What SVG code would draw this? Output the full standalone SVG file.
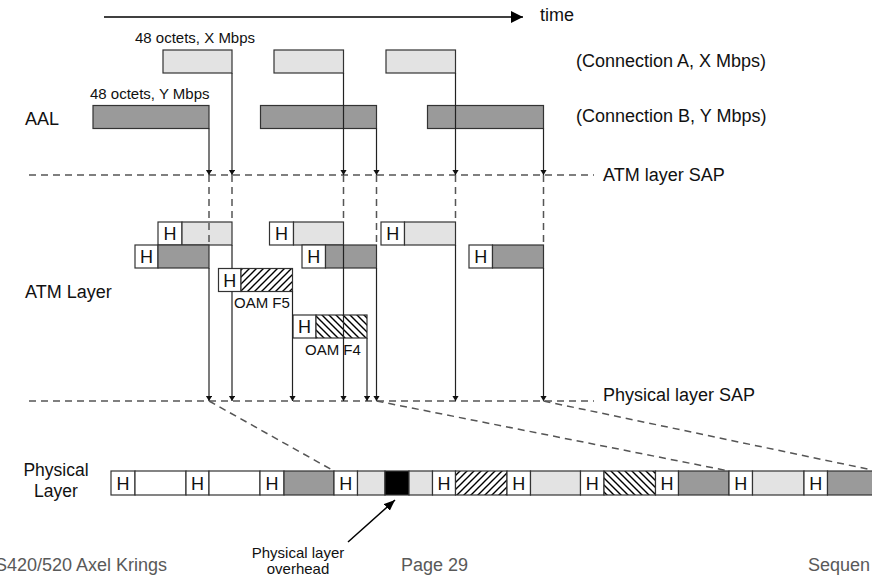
<svg xmlns="http://www.w3.org/2000/svg" width="872" height="578" viewBox="0 0 872 578">
<style>
text{font-family:"Liberation Sans",Arial,sans-serif;fill:#111}
.t15{font-size:15px}
.t18{font-size:18px}
.h{font-size:18px;text-anchor:middle}
.ft{font-size:18px;fill:#595959}
.lt{fill:#e3e3e3;stroke:#333;stroke-width:1.2}
.dk{fill:#9a9a9a;stroke:#333;stroke-width:1.2}
.wh{fill:#fff;stroke:#333;stroke-width:1.2}
.hf{fill:url(#hf);stroke:#333;stroke-width:1.2}
.hb{fill:url(#hb);stroke:#333;stroke-width:1.2}
.bk{fill:#000;stroke:#333;stroke-width:1.2}
.sol{stroke:#222;stroke-width:1.2;fill:none}
.arr{stroke:#222;stroke-width:1.2;fill:none;marker-end:url(#ah)}
.dash{stroke:#555;stroke-width:1.5;stroke-dasharray:7 5;fill:none}
</style>
<defs>
<pattern id="hf" patternUnits="userSpaceOnUse" width="7" height="7">
<rect width="7" height="7" fill="#fff"/>
<path d="M-1,8 L8,-1 M-4,4 L4,-4 M3,11 L11,3" stroke="#000" stroke-width="1.4"/>
</pattern>
<pattern id="hb" patternUnits="userSpaceOnUse" width="7" height="7">
<rect width="7" height="7" fill="#fff"/>
<path d="M-1,-1 L8,8 M-4,3 L4,11 M3,-4 L11,4" stroke="#000" stroke-width="1.4"/>
</pattern>
<marker id="ah" markerUnits="userSpaceOnUse" markerWidth="7" markerHeight="8" refX="5.5" refY="3.4" orient="auto">
<path d="M0,0 L5.5,3.4 L0,6.8 z" fill="#111"/>
</marker>
<marker id="big" markerUnits="userSpaceOnUse" markerWidth="13" markerHeight="13" refX="12" refY="6" orient="auto">
<path d="M0,0 L12,6 L0,12 z" fill="#000"/>
</marker>
<marker id="ov" markerUnits="userSpaceOnUse" markerWidth="12" markerHeight="10" refX="11" refY="4.5" orient="auto">
<path d="M0,0 L11,4.5 L0,9 z" fill="#000"/>
</marker>
</defs>
<rect width="872" height="578" fill="#fff"/>

<!-- labels -->
<g id="labels">
<text class="t18" x="540" y="21">time</text>
<text class="t15" x="135" y="43" font-size="15.5">48 octets, X Mbps</text>
<text class="t15" x="90" y="99" font-size="15.5">48 octets, Y Mbps</text>
<text class="t18" x="576" y="67">(Connection A, X Mbps)</text>
<text class="t18" x="576" y="122">(Connection B, Y Mbps)</text>
<text class="t18" x="25" y="125">AAL</text>
<text class="t18" x="603" y="181">ATM layer SAP</text>
<text class="t18" x="25" y="298">ATM Layer</text>
<text class="t18" x="603" y="401">Physical layer SAP</text>
<text x="56" y="476" font-size="17.5" text-anchor="middle">Physical</text>
<text x="56" y="497" font-size="17.5" text-anchor="middle">Layer</text>
<text class="t15" x="298" y="558" text-anchor="middle">Physical layer</text>
<text class="t15" x="298" y="574" text-anchor="middle">overhead</text>
<text class="ft" x="-18" y="571">CS420/520 Axel Krings</text>
<text class="ft" x="401" y="571">Page 29</text>
<text class="ft" x="808" y="571">Sequen</text>
</g>

<!-- AAL blocks -->
<g id="aal-A1"><rect class="lt" x="163" y="50" width="69" height="23"/></g>
<g id="aal-A2"><rect class="lt" x="274" y="50" width="69.5" height="23"/></g>
<g id="aal-A3"><rect class="lt" x="386" y="50" width="69.5" height="23"/></g>
<g id="aal-B1"><rect class="dk" x="93" y="105.5" width="116" height="23"/></g>
<g id="aal-B2"><rect class="dk" x="260.5" y="105.5" width="116" height="23"/></g>
<g id="aal-B3"><rect class="dk" x="427.5" y="105.5" width="116" height="23"/></g>

<!-- ATM cells -->
<g id="cell-A1"><rect class="wh" x="158" y="222" width="24" height="23"/><rect class="lt" x="182" y="222" width="50" height="23"/><text class="h" x="170" y="240">H</text></g>
<g id="cell-A2"><rect class="wh" x="269.5" y="222" width="24" height="23"/><rect class="lt" x="293.5" y="222" width="50" height="23"/><text class="h" x="281.5" y="240">H</text></g>
<g id="cell-A3"><rect class="wh" x="381" y="222" width="23.5" height="23"/><rect class="lt" x="404.5" y="222" width="51" height="23"/><text class="h" x="392.8" y="240">H</text></g>
<g id="cell-B1"><rect class="wh" x="135" y="245" width="23" height="23"/><rect class="dk" x="158" y="245" width="51" height="23"/><text class="h" x="146.5" y="263">H</text></g>
<g id="cell-B2"><rect class="wh" x="302" y="245" width="23.5" height="23"/><rect class="dk" x="325.5" y="245" width="51" height="23"/><text class="h" x="313.8" y="263">H</text></g>
<g id="cell-B3"><rect class="wh" x="469" y="245" width="23.5" height="23"/><rect class="dk" x="492.5" y="245" width="51" height="23"/><text class="h" x="480.8" y="263">H</text></g>
<g id="cell-F5"><rect class="wh" x="218.5" y="268.5" width="22.5" height="23"/><rect class="hf" x="241" y="268.5" width="51.5" height="23"/><text class="h" x="229.8" y="286.5">H</text><text class="t15" x="234" y="308">OAM F5</text></g>
<g id="cell-F4"><rect class="wh" x="293" y="315" width="23" height="23"/><rect class="hb" x="316" y="315" width="51" height="23"/><text class="h" x="304.5" y="333">H</text><text class="t15" x="305" y="355">OAM F4</text></g>

<!-- Physical layer stream -->
<g id="physical-stream">
<rect class="wh" x="111" y="471" width="24" height="24"/><text class="h" x="123" y="489.5">H</text>
<rect class="wh" x="135" y="471" width="51" height="24"/>
<rect class="wh" x="186" y="471" width="23" height="24"/><text class="h" x="197.5" y="489.5">H</text>
<rect class="wh" x="209" y="471" width="51" height="24"/>
<rect class="wh" x="260" y="471" width="24" height="24"/><text class="h" x="272" y="489.5">H</text>
<rect class="dk" x="284" y="471" width="50" height="24"/>
<rect class="wh" x="334" y="471" width="23.5" height="24"/><text class="h" x="345.8" y="489.5">H</text>
<rect class="lt" x="357.5" y="471" width="27.5" height="24"/>
<rect class="bk" x="385" y="471" width="24" height="24"/>
<rect class="lt" x="409" y="471" width="23.5" height="24"/>
<rect class="wh" x="432.5" y="471" width="23" height="24"/><text class="h" x="444" y="489.5">H</text>
<rect class="hf" x="455.5" y="471" width="51.5" height="24"/>
<rect class="wh" x="507" y="471" width="23.5" height="24"/><text class="h" x="518.8" y="489.5">H</text>
<rect class="lt" x="530.5" y="471" width="50" height="24"/>
<rect class="wh" x="580.5" y="471" width="23.5" height="24"/><text class="h" x="592.3" y="489.5">H</text>
<rect class="hb" x="604" y="471" width="51.5" height="24"/>
<rect class="wh" x="655.5" y="471" width="23" height="24"/><text class="h" x="667" y="489.5">H</text>
<rect class="dk" x="678.5" y="471" width="50.5" height="24"/>
<rect class="wh" x="729" y="471" width="23.5" height="24"/><text class="h" x="740.8" y="489.5">H</text>
<rect class="lt" x="752.5" y="471" width="51.5" height="24"/>
<rect class="wh" x="804" y="471" width="23.5" height="24"/><text class="h" x="815.8" y="489.5">H</text>
<rect class="dk" x="827.5" y="471" width="50" height="24"/>
</g>

<!-- connectors -->
<g id="connectors">
<line x1="104" y1="17" x2="523" y2="17" stroke="#000" stroke-width="1.3" marker-end="url(#big)"/>
<line class="dash" x1="29" y1="175" x2="594" y2="175"/>
<line class="dash" x1="29" y1="401" x2="594" y2="401"/>
<!-- AAL to ATM SAP -->
<path class="arr" d="M209,128.5 V175"/>
<path class="arr" d="M232,73 V175"/>
<path class="arr" d="M343.5,73 V175"/>
<path class="arr" d="M376.5,128.5 V175"/>
<path class="arr" d="M455.5,73 V175"/>
<path class="arr" d="M543.5,128.5 V175"/>
<!-- SAP to ATM cells -->
<path class="dash" d="M209,175 V245"/>
<path class="dash" d="M232,175 V222"/>
<path class="dash" d="M343.5,175 V222"/>
<path class="dash" d="M376.5,175 V245"/>
<path class="dash" d="M455.5,175 V222"/>
<path class="dash" d="M543.5,175 V245"/>
<!-- ATM cells to Physical SAP -->
<path class="arr" d="M209,268 V401"/>
<path class="arr" d="M232,245 V268.5 M232,291.5 V401"/>
<path class="arr" d="M292.5,291.5 V401"/>
<path class="arr" d="M343.5,245 V401"/>
<path class="arr" d="M367,338 V401"/>
<path class="arr" d="M376.5,268 V401"/>
<path class="arr" d="M455.5,245 V401"/>
<path class="arr" d="M543.5,268 V401"/>
<!-- fan-out to physical stream -->
<line class="dash" x1="209" y1="401" x2="334" y2="471"/>
<line class="dash" x1="376.5" y1="401" x2="729" y2="471"/>
<line class="dash" x1="543.5" y1="401" x2="872" y2="470"/>
<!-- overhead pointer -->
<line x1="348" y1="542" x2="395" y2="500" stroke="#000" stroke-width="1.5" marker-end="url(#ov)"/>
</g>
</svg>
